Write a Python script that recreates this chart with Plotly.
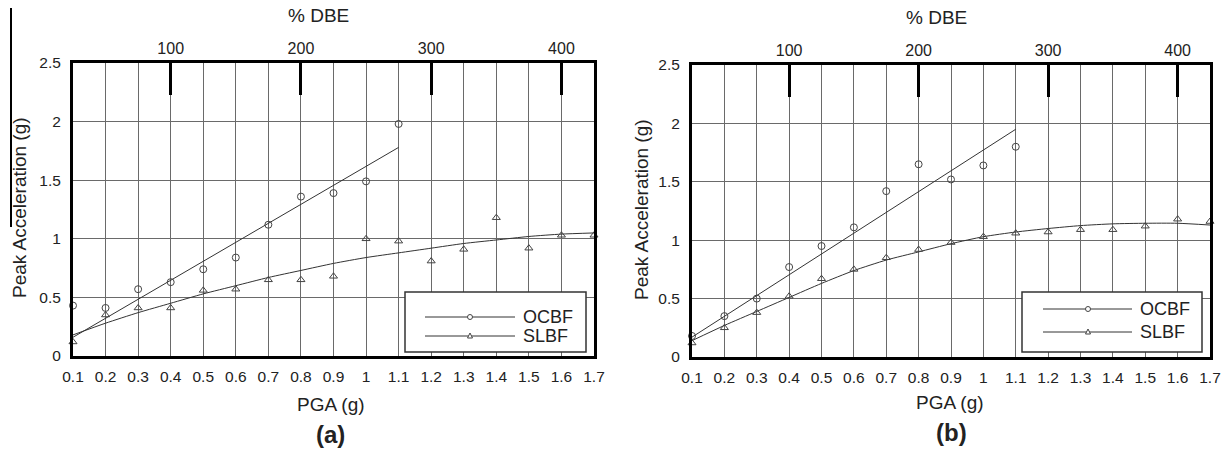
import plotly.graph_objects as go

# ---------------- data ----------------
pga = [0.1, 0.2, 0.3, 0.4, 0.5, 0.6, 0.7, 0.8, 0.9, 1.0, 1.1, 1.2, 1.3, 1.4, 1.5, 1.6, 1.7]
pga_ocbf = pga[:11]
fit_ocbf_x = [0.1, 1.1]
dbe_per_g = 250.0            # 100 % DBE = 0.4 g
dbe_ticks = [100, 200, 300, 400]
y_ticks = [0, 0.5, 1.0, 1.5, 2.0, 2.5]

# panel (a)
a_ocbf = [0.43, 0.41, 0.57, 0.63, 0.74, 0.84, 1.12, 1.36, 1.39, 1.49, 1.98]
a_ocbf_fit = [0.16, 1.78]
a_slbf = [0.12, 0.35, 0.41, 0.41, 0.56, 0.57, 0.65, 0.65, 0.68, 1.00, 0.98,
          0.81, 0.91, 1.18, 0.92, 1.03, 1.03]
a_slbf_fit = [0.18, 0.28, 0.37, 0.45, 0.53, 0.60, 0.67, 0.73, 0.79, 0.84, 0.88,
              0.92, 0.96, 0.99, 1.02, 1.04, 1.05]

# panel (b)
b_ocbf = [0.18, 0.35, 0.50, 0.77, 0.95, 1.11, 1.42, 1.65, 1.52, 1.64, 1.80]
b_ocbf_fit = [0.17, 1.95]
b_slbf = [0.12, 0.25, 0.38, 0.52, 0.67, 0.75, 0.85, 0.92, 0.98, 1.03, 1.06,
          1.07, 1.09, 1.09, 1.12, 1.18, 1.16]
b_slbf_fit = [0.14, 0.27, 0.39, 0.51, 0.63, 0.74, 0.83, 0.90, 0.97, 1.03, 1.07,
              1.10, 1.125, 1.14, 1.145, 1.145, 1.13]

series_names = ["OCBF", "SLBF"]

# ---------------- layout helpers ----------------
W, H = 1224, 458
FONT = "Liberation Sans, Arial, sans-serif"
INK = "#222222"
MARK = "#444444"
GRID = "#6a6a6a"


def px(x):
    return x / W


def py(y):
    return 1 - y / H


fig = go.Figure()

panels = [
    dict(xa="x", ya="y", xt="x3", ocbf=a_ocbf, ocbf_fit=a_ocbf_fit,
         slbf=a_slbf, slbf_fit=a_slbf_fit),
    dict(xa="x2", ya="y2", xt="x4", ocbf=b_ocbf, ocbf_fit=b_ocbf_fit,
         slbf=b_slbf, slbf_fit=b_slbf_fit),
]

for p in panels:
    fig.add_trace(go.Scatter(x=fit_ocbf_x, y=p["ocbf_fit"], mode="lines",
                             line=dict(color="#333333", width=1),
                             xaxis=p["xa"], yaxis=p["ya"], showlegend=False,
                             hoverinfo="skip"))
    fig.add_trace(go.Scatter(x=pga, y=p["slbf_fit"], mode="lines",
                             line=dict(color="#333333", width=1, shape="spline", smoothing=0.6),
                             xaxis=p["xa"], yaxis=p["ya"], showlegend=False,
                             hoverinfo="skip"))
    fig.add_trace(go.Scatter(x=pga_ocbf, y=p["ocbf"], mode="markers", name="OCBF",
                             marker=dict(symbol="circle-open", size=7,
                                         color=MARK, line=dict(width=1, color=MARK)),
                             xaxis=p["xa"], yaxis=p["ya"], showlegend=False,
                             cliponaxis=False))
    fig.add_trace(go.Scatter(x=pga, y=p["slbf"], mode="markers", name="SLBF",
                             marker=dict(symbol="triangle-up-open", size=7,
                                         color=MARK, line=dict(width=1, color=MARK)),
                             xaxis=p["xa"], yaxis=p["ya"], showlegend=False,
                             cliponaxis=False))
    # invisible carrier for the % DBE axis
    fig.add_trace(go.Scatter(x=[v * dbe_per_g for v in pga], y=p["slbf"],
                             mode="markers", marker=dict(opacity=0),
                             xaxis=p["xt"], yaxis=p["ya"], showlegend=False,
                             hoverinfo="skip"))

x_tick_text = [f"{v:g}" for v in pga]
y_tick_text = [f"{v:g}" for v in y_ticks]

common_x = dict(range=[pga[0], pga[-1]], tickvals=pga, ticktext=x_tick_text,
                showgrid=True, gridcolor=GRID, gridwidth=1, zeroline=False,
                showline=True, linecolor="black", linewidth=3, mirror=True,
                ticks="", ticklabelstandoff=4,
                tickfont=dict(family=FONT, size=15.5, color=INK))
common_y = dict(range=[0, 2.5], tickvals=y_ticks, ticktext=y_tick_text,
                showgrid=True, gridcolor=GRID, gridwidth=1, zeroline=False,
                showline=True, linecolor="black", linewidth=3, mirror=True,
                ticks="", ticklabelstandoff=6,
                tickfont=dict(family=FONT, size=15.5, color=INK))
common_top = dict(side="top", range=[pga[0] * dbe_per_g, pga[-1] * dbe_per_g],
                  tickvals=dbe_ticks, ticktext=[str(v) for v in dbe_ticks],
                  ticks="inside", ticklen=32, tickwidth=3, tickcolor="black",
                  showgrid=False, zeroline=False, showline=False,
                  ticklabelstandoff=5,
                  tickfont=dict(family=FONT, size=16, color=INK))

fig.update_layout(
    width=W, height=H,
    margin=dict(l=0, r=0, t=0, b=0, autoexpand=False),
    paper_bgcolor="white", plot_bgcolor="white",
    showlegend=False,
    xaxis=dict(domain=[px(73), px(594)], anchor="y", **common_x),
    yaxis=dict(domain=[py(356), py(63)], anchor="x", **common_y),
    xaxis2=dict(domain=[px(692), px(1210)], anchor="y2", **common_x),
    yaxis2=dict(domain=[py(357), py(65)], anchor="x2", **common_y),
    xaxis3=dict(overlaying="x", anchor="y", **common_top),
    xaxis4=dict(overlaying="x2", anchor="y2", **common_top),
)

annotations = []


def text(x, y, s, size, bold=False, angle=0, xanchor="center"):
    annotations.append(dict(x=px(x), y=py(y), xref="paper", yref="paper",
                            text=f"<b>{s}</b>" if bold else s, showarrow=False,
                            xanchor=xanchor, yanchor="middle", textangle=angle,
                            font=dict(family=FONT, size=size, color=INK)))


# axis titles and panel labels
text(318, 16, "% DBE", 19)
text(937, 18, "% DBE", 19)
text(20, 208, "Peak Acceleration (g)", 19, angle=-90)
text(641, 210, "Peak Acceleration (g)", 19, angle=-90)
text(331, 404, "PGA (g)", 19)
text(950, 402, "PGA (g)", 19)
text(330, 434, "(a)", 24, bold=True)
text(951, 432, "(b)", 24, bold=True)

shapes = []


def legend_box(x0, x1, y0, y1, lx0, lx1, mx, ys, tx):
    shapes.append(dict(type="rect", xref="paper", yref="paper",
                       x0=px(x0), x1=px(x1), y0=py(y1), y1=py(y0),
                       fillcolor="white", line=dict(color="#333333", width=1.5)))
    for i, (yy, nm) in enumerate(zip(ys, series_names)):
        shapes.append(dict(type="line", xref="paper", yref="paper",
                           x0=px(lx0), x1=px(lx1), y0=py(yy), y1=py(yy),
                           line=dict(color="#333333", width=1)))
        r = 2.5
        if i == 0:
            shapes.append(dict(type="circle", xref="paper", yref="paper",
                               x0=px(mx - r), x1=px(mx + r), y0=py(yy + r), y1=py(yy - r),
                               fillcolor="white", line=dict(color=MARK, width=1)))
        else:
            path = (f"M{px(mx - r)},{py(yy + 2)} L{px(mx + r)},{py(yy + 2)} "
                    f"L{px(mx)},{py(yy - 3)} Z")
            shapes.append(dict(type="path", xref="paper", yref="paper", path=path,
                               fillcolor="white", line=dict(color=MARK, width=1)))
        text(tx, yy, nm, 18, xanchor="left")


legend_box(405, 586, 292, 352, 425, 515, 470, [317, 336], 521)
legend_box(1022, 1202, 292, 352, 1043, 1132, 1088, [309, 332], 1138)

# scan artefact at the far left edge
shapes.append(dict(type="line", xref="paper", yref="paper",
                   x0=px(11), x1=px(11), y0=py(8), y1=py(227),
                   line=dict(color="black", width=2)))

fig.update_layout(annotations=annotations, shapes=shapes)

fig.write_html(
    "out.html",
    config={"responsive": False, "displayModeBar": False},
    post_script="document.body.style.margin='0';document.body.style.padding='0';"
                "document.body.style.overflow='hidden';",
)
